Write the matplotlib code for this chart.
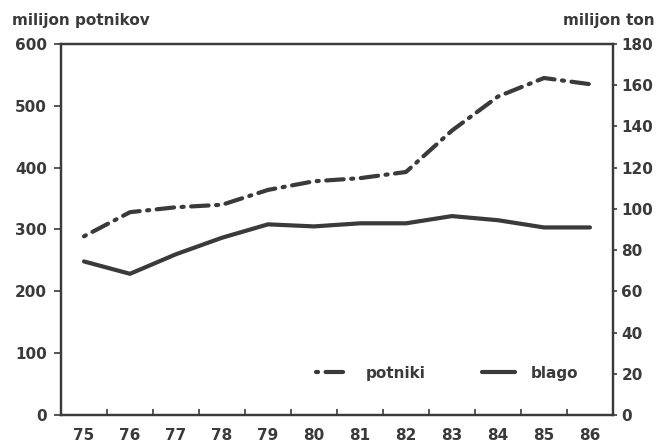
import matplotlib.pyplot as plt
import numpy as np

plt.rcParams['font.family'] = ['DejaVu Sans']
plt.rcParams['font.weight'] = 'bold'

years = ['75', '76', '77', '78', '79', '80', '81', '82', '83', '84', '85', '86']
potniki = [289, 328, 336, 340, 364, 378, 383, 393, 460, 515, 545, 535]   # milijon potnikov
blago = [74.5, 68.5, 78, 86, 92.5, 91.5, 93, 93, 96.5, 94.5, 91, 91]     # milijon ton

col = '#3a3a3a'
fs = 11

fig = plt.figure(figsize=(6.61, 4.43), dpi=100)
ax = fig.add_axes([0.0923, 0.0632, 0.835, 0.8375])
ax2 = ax.twinx()

x = np.arange(len(years))
ax.plot(x, potniki, color=col, lw=3.0, dashes=[0.5, 1.8, 4.2, 1.8],
        dash_capstyle='round', label='potniki')
ax2.plot(x, blago, color=col, lw=3.0, solid_capstyle='round', label='blago')

ax.set_xlim(-0.5, len(years) - 0.5)
ax.set_ylim(0, 600)
ax2.set_ylim(0, 180)
ax.set_yticks(range(0, 601, 100))
ax2.set_yticks(range(0, 181, 20))

ax.set_xticks(x)
ax.set_xticklabels(years)
ax.set_xticks(np.arange(-0.5, len(years)), minor=True)
ax.tick_params(axis='x', which='major', length=0, pad=9, labelsize=fs, colors=col)
ax.tick_params(axis='x', which='minor', direction='in', length=4, width=1.2, color=col)
ax.tick_params(axis='y', direction='out', length=5, width=1.2, labelsize=fs,
               colors=col, pad=5)
ax2.tick_params(axis='y', direction='out', length=3, width=1.2, labelsize=fs,
                colors=col, pad=3)

for a in (ax, ax2):
    for s in a.spines.values():
        s.set_color(col)
        s.set_linewidth(1.6)

fig.text(12 / 661, 1 - 25 / 443, 'milijon potnikov', fontsize=fs, color=col,
         fontweight='bold', va='baseline')
fig.text(655 / 661, 1 - 25 / 443, 'milijon ton', fontsize=fs, color=col,
         fontweight='bold', ha='right', va='baseline')

h1, l1 = ax.get_legend_handles_labels()
h2, l2 = ax2.get_legend_handles_labels()
leg = ax2.legend(h1 + h2, l1 + l2, loc='center right', ncol=2, frameon=False,
                 bbox_to_anchor=(0.937, 0.113), fontsize=fs, handlelength=2.2,
                 columnspacing=3.7, handletextpad=1.0, borderpad=0,
                 borderaxespad=0)
for t in leg.get_texts():
    t.set_color(col)

plt.savefig('out.png', dpi=100, facecolor='white')
plt.close()
